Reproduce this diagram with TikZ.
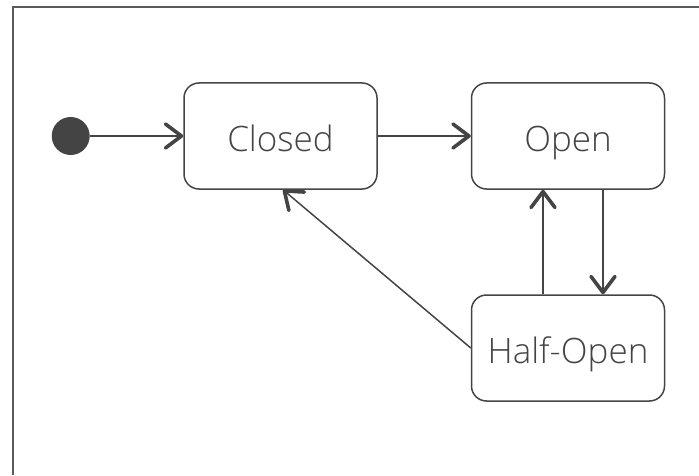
\documentclass[tikz,border=0pt]{standalone}
\usepackage{fontspec}
\setmainfont{Open Sans Light}
\usepackage{tikz}
\usetikzlibrary{arrows.meta}
\definecolor{ink}{HTML}{444444}
\definecolor{framegray}{HTML}{5A5A5A}

\begin{document}
\begin{tikzpicture}[x=1pt, y=1pt,
    state/.style={draw=ink, line width=1.5pt, rounded corners=15pt,
      minimum width=193pt, minimum height=106pt, inner sep=0pt,
      text height=31.4pt, text depth=0pt,
      text=ink, font=\fontsize{35}{40}\selectfont},
    trans/.style={draw=ink, line width=1.5pt,
      -{Straight Barb[length=16pt, width=24pt, line width=3.6pt, round]}}]
    \useasboundingbox (0,0) rectangle (699,475);

    %% frame of the picture
    \draw[framegray, line width=2pt] (12.5,0) -- (12.5,467.5) -- (699,467.5);

    %% the states
    \node[circle, fill=ink, minimum size=38pt, inner sep=0pt] (init) at (70.7,339) {};
    \node[state] (closed) at (280.5,339) {Closed};
    \node[state] (open) at (568,339) {Open};
    \node[state] (halfopen) at (568,127) {Half-Open};

    %% the transitions
    \draw[trans] (init) -- (closed.west);
    \draw[trans] (closed.east) -- (open.west);
    \draw[trans] ([xshift=35pt]open.south) -- ([xshift=35pt]halfopen.north);
    \draw[trans] ([xshift=-25pt]halfopen.north) -- ([xshift=-25pt]open.south);
    \draw[trans] (halfopen.west) -- ([xshift=2.5pt]closed.south);
\end{tikzpicture}
\end{document}
